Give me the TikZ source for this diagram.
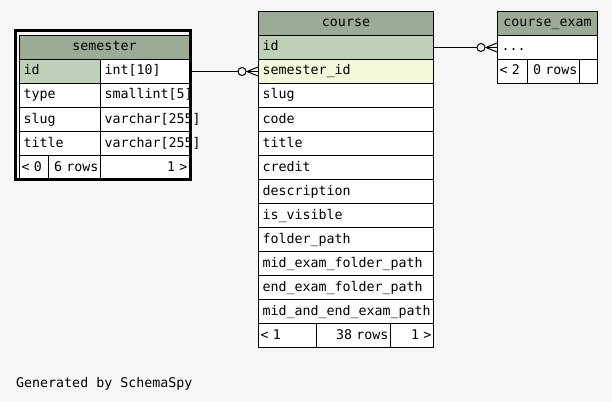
\documentclass[tikz,border=0pt]{standalone}
\usepackage{fontspec}
\newfontfamily\schemafont{DejaVu Sans Mono}
\definecolor{BgColor}{RGB}{247,247,247}
\definecolor{HeadColor}{RGB}{155,171,150}
\definecolor{KeyColor}{RGB}{190,209,184}
\definecolor{RefColor}{RGB}{244,247,218}
\tikzset{
  cell/.style={draw=black, line width=1pt, fill=white, anchor=north west, minimum height=24pt,
    inner ysep=0pt, inner xsep=4pt, text height=10pt, text depth=3pt, align=left,
    font=\schemafont\fontsize{13.3}{16}\selectfont},
  head/.style={cell, fill=HeadColor, align=center},
  key/.style={cell, fill=KeyColor},
  ref/.style={cell, fill=RefColor},
  foot/.style={cell, inner xsep=2pt},
  link/.style={draw=black, line width=1pt},
  focus/.style={draw=black, line width=3pt}
}

\begin{document}
\begin{tikzpicture}[x=1pt, y=-1pt]
  \fill[BgColor] (0,0) rectangle (612,401);

  % semester
  \node[head, text width=162pt] (sem-head) at (19,35) {semester};
  \node[key, text width=73pt] (sem-id) at (19,59) {id};
  \node[cell, text width=81pt] (sem-id-type) at (100,59) {int[10]};
  \node[cell, text width=73pt] (sem-type) at (19,83) {type};
  \node[cell, text width=81pt] (sem-type-type) at (100,83) {smallint[5]};
  \node[cell, text width=73pt] (sem-slug) at (19,107) {slug};
  \node[cell, text width=81pt] (sem-slug-type) at (100,107) {varchar[255]};
  \node[cell, text width=73pt] (sem-title) at (19,131) {title};
  \node[cell, text width=81pt] (sem-title-type) at (100,131) {varchar[255]};
  \node[foot, text width=25pt] (sem-parents) at (19,155) {< 0};
  \node[foot, text width=48pt, align=right] (sem-rows) at (48,155) {6 rows};
  \node[foot, text width=85pt, align=right] (sem-children) at (100,155) {1 >};
  \draw[focus] (15.5,30.5) rectangle (190.5,179);

  % course
  \node[head, text width=167pt] (course-head) at (258,11) {course};
  \node[key, text width=167pt] (course-id) at (258,35) {id};
  \node[ref, text width=167pt] (course-semid) at (258,59) {semester\_id};
  \foreach \name [count=\i] in {slug, code, title, credit, description, is\_visible, folder\_path,
      mid\_exam\_folder\_path, end\_exam\_folder\_path, mid\_and\_end\_exam\_path}
    \node[cell, text width=167pt] (course-\i) at (258,{59+24*\i}) {\name};
  \node[foot, text width=54pt] (course-parents) at (258,323) {< 1};
  \node[foot, text width=70pt, align=right] (course-rows) at (316,323) {38 rows};
  \node[foot, text width=39pt, align=right] (course-children) at (390,323) {1 >};

  % course_exam
  \node[head, text width=92pt] (exam-head) at (497,11) {course\_exam};
  \node[cell, text width=92pt] (exam-dots) at (497,35) {...};
  \node[foot, text width=26pt] (exam-parents) at (497,59) {< 2};
  \node[foot, text width=48pt, align=right] (exam-rows) at (527,59) {0 rows};
  \node[foot, text width=14pt] (exam-children) at (579,59) {};

  % semester -> course
  \draw[link] (sem-id-type.east) -- ([xshift=-20pt]course-semid.west);
  \draw[link] ([xshift=-16pt]course-semid.west) circle (4pt);
  \draw[link] ([yshift=4.5pt]course-semid.west) -- ([xshift=-11pt]course-semid.west) -- ([yshift=-4.5pt]course-semid.west);
  \draw[link] ([xshift=-11pt]course-semid.west) -- (course-semid.west);

  % course -> course_exam
  \draw[link] (course-id.east) -- ([xshift=-20pt]exam-dots.west);
  \draw[link] ([xshift=-16pt]exam-dots.west) circle (4pt);
  \draw[link] ([yshift=4.5pt]exam-dots.west) -- ([xshift=-11pt]exam-dots.west) -- ([yshift=-4.5pt]exam-dots.west);
  \draw[link] ([xshift=-11pt]exam-dots.west) -- (exam-dots.west);

  \node[anchor=base west, inner sep=0pt, font=\schemafont\fontsize{13.3}{16}\selectfont] (credit) at (16,387) {Generated by SchemaSpy};
\end{tikzpicture}
\end{document}
